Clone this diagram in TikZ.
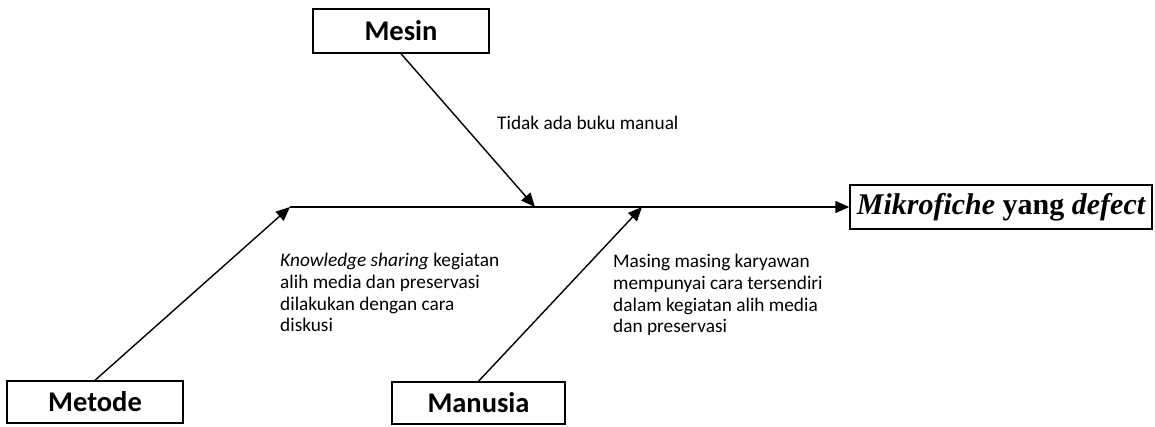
\documentclass[tikz,border=0pt]{standalone}
\usepackage{fontspec}
\setmainfont{Carlito}
\newfontfamily\tnr{Liberation Serif}
\usetikzlibrary{arrows.meta}
\begin{document}
\begin{tikzpicture}[x=1pt,y=-1pt,
  cat/.style={draw,line width=1.4pt,inner sep=0pt,font=\fontsize{28.5}{32}\selectfont\bfseries},
  conn/.style={line width=1.4pt,-{Triangle[length=14pt,width=12pt]}},
  note/.style={anchor=north west,inner sep=0pt,align=left,font=\fontsize{19.3}{21.7}\selectfont}]
\useasboundingbox (0,0) rectangle (1155,427);
\node[cat,minimum width=176pt,minimum height=44pt] (mesin) at (401,31) {Mesin};
\node[cat,minimum width=176pt,minimum height=42pt] (metode) at (95,402) {Metode};
\node[cat,minimum width=173pt,minimum height=42pt] (manusia) at (478.5,403) {Manusia};
\node[draw,line width=1.4pt,inner sep=0pt,minimum width=302pt,minimum height=44pt,
  font=\fontsize{30}{34}\selectfont\tnr\bfseries] (result) at (1001,207)
  {\itshape Mikrofiche\/ \upshape yang \itshape defect};
\coordinate (s0) at (290,207);
\coordinate (a1) at (535,207);
\coordinate (a2) at (642,207);
\draw[conn] (s0) -- (result.west);
\draw[conn] (mesin.south) -- (a1);
\draw[conn] (metode.north) -- (s0);
\draw[conn] (manusia.north) -- (a2);
\node[note] (t1) at (497,116) {Tidak ada buku manual};
\node[note] (t2) at (280,253) {\itshape Knowledge sharing\upshape{} kegiatan\\alih media dan preservasi\\dilakukan dengan cara\\diskusi};
\node[note] (t3) at (613,254) {Masing masing karyawan\\mempunyai cara tersendiri\\dalam kegiatan alih media\\dan preservasi};
\end{tikzpicture}
\end{document}
